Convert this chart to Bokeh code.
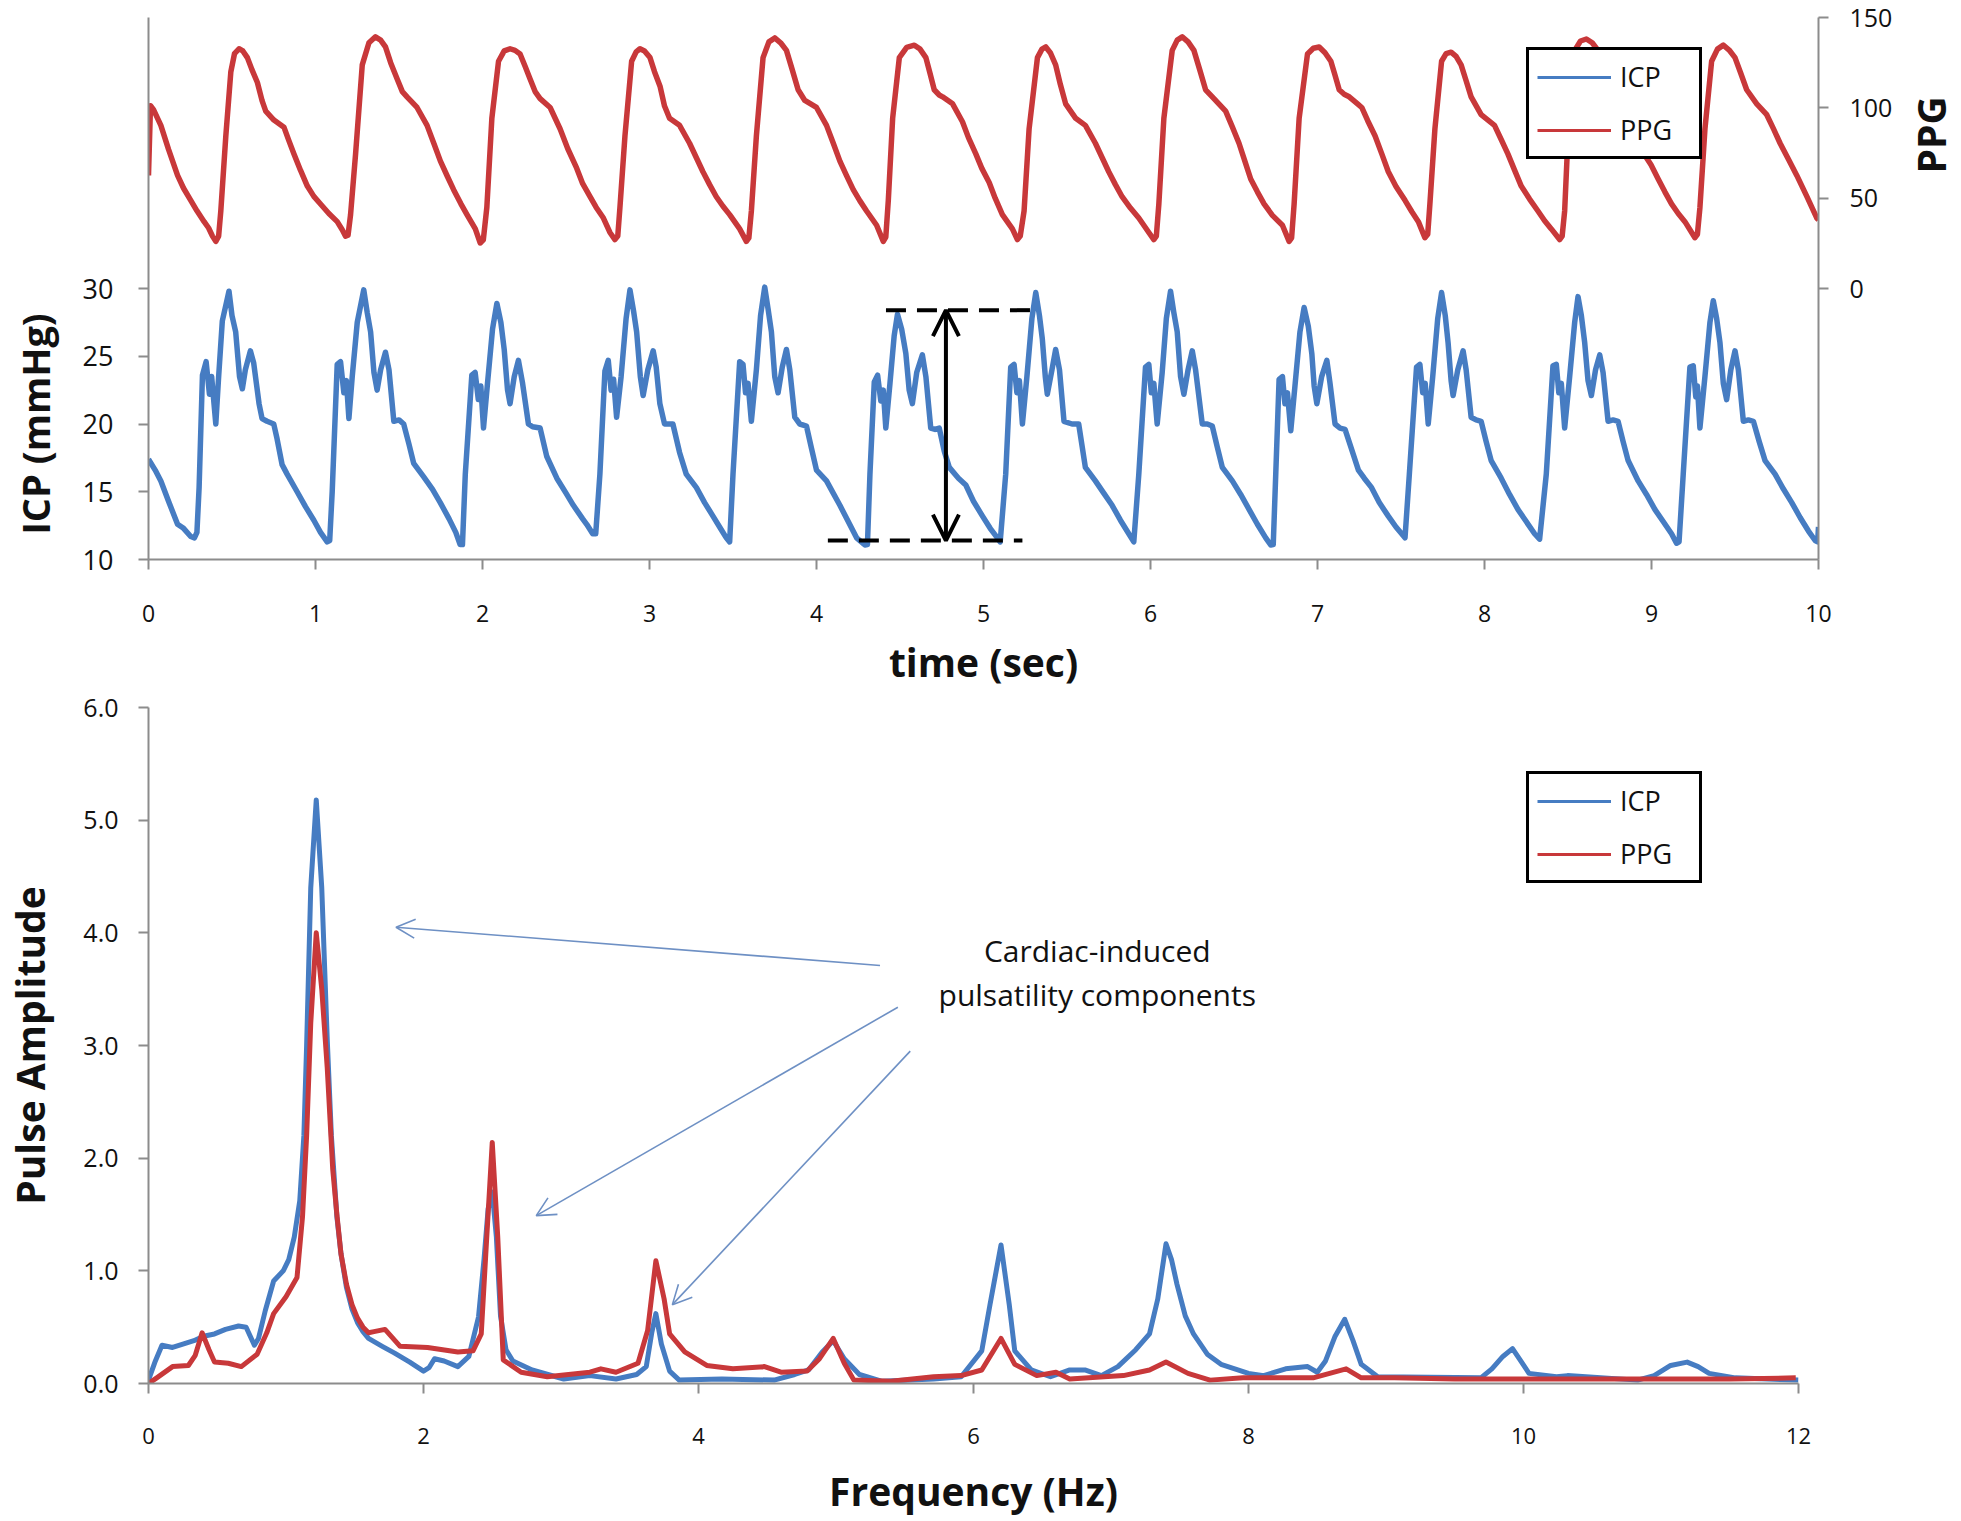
import math
from bokeh.plotting import figure
from bokeh.models import (Range1d, LinearAxis, FixedTicker, Label, Arrow, OpenHead,
                          Legend, LegendItem, PrintfTickFormatter)
from bokeh.core.properties import value
from bokeh.layouts import row
from bokeh.embed import file_html
from bokeh.resources import INLINE

# ---------------- data ----------------
# time series: (time s, ICP mmHg)
icp_trace = [
    (0.00, 17.4), (0.04, 16.6), (0.074, 15.8), (0.12, 14.3), (0.174, 12.6), (0.21, 12.3), (0.253, 11.7),
    (0.275, 11.6), (0.29, 12.0), (0.303, 15.3), (0.323, 23.6), (0.345, 24.6), (0.365, 22.2), (0.378, 23.5),
    (0.403, 20.0), (0.42, 23.5), (0.442, 27.6), (0.482, 29.8), (0.50, 28.0), (0.522, 26.8), (0.545, 23.5),
    (0.562, 22.6), (0.58, 24.0), (0.61, 25.4), (0.63, 24.5), (0.662, 21.5), (0.68, 20.4), (0.71, 20.2),
    (0.75, 20.0), (0.77, 18.9), (0.80, 17.0), (0.83, 16.3), (0.89, 15.0), (0.94, 13.9), (0.99, 12.9),
    (1.03, 12.0), (1.07, 11.3), (1.085, 11.4), (1.10, 15.0), (1.13, 24.4), (1.15, 24.6), (1.17, 22.3),
    (1.185, 23.2), (1.20, 20.4), (1.22, 23.5), (1.25, 27.5), (1.289, 29.9), (1.31, 28.2), (1.33, 26.8),
    (1.35, 23.8), (1.369, 22.5), (1.39, 24.0), (1.419, 25.3), (1.44, 24.0), (1.469, 20.2), (1.50, 20.3),
    (1.528, 20.0), (1.56, 18.5), (1.588, 17.1), (1.648, 16.1), (1.70, 15.2), (1.747, 14.2), (1.80, 13.0),
    (1.84, 12.0), (1.866, 11.1), (1.88, 11.1), (1.897, 16.3), (1.936, 23.6), (1.956, 23.8), (1.975, 21.8),
    (1.99, 22.8), (2.006, 19.7), (2.03, 23.0), (2.06, 27.0), (2.086, 28.9), (2.11, 27.5), (2.13, 25.5),
    (2.15, 22.5), (2.165, 21.5), (2.19, 23.5), (2.215, 24.7), (2.24, 23.0), (2.275, 20.0), (2.30, 19.8),
    (2.345, 19.7), (2.385, 17.6), (2.445, 16.0), (2.50, 14.9), (2.544, 14.0), (2.60, 13.0), (2.624, 12.6),
    (2.66, 11.9), (2.678, 11.9), (2.703, 16.3), (2.733, 23.9), (2.753, 24.7), (2.77, 22.5), (2.785, 23.3),
    (2.803, 20.5), (2.83, 23.5), (2.86, 27.8), (2.883, 29.9), (2.905, 28.3), (2.923, 26.8), (2.945, 23.5),
    (2.962, 22.1), (2.99, 24.0), (3.022, 25.4), (3.04, 24.2), (3.062, 21.5), (3.09, 20.0), (3.14, 20.0),
    (3.18, 17.9), (3.22, 16.3), (3.281, 15.3), (3.33, 14.2), (3.38, 13.2), (3.43, 12.2), (3.46, 11.6),
    (3.48, 11.3), (3.50, 16.3), (3.54, 24.6), (3.56, 24.4), (3.575, 22.3), (3.59, 23.0), (3.61, 20.2),
    (3.64, 24.0), (3.665, 28.0), (3.69, 30.1), (3.71, 28.5), (3.73, 26.8), (3.75, 23.5), (3.77, 22.3),
    (3.795, 24.2), (3.82, 25.5), (3.84, 24.0), (3.87, 20.5), (3.90, 20.0), (3.94, 19.85), (3.97, 18.2),
    (4.00, 16.6), (4.06, 15.8), (4.10, 14.9), (4.14, 14.0), (4.19, 12.8), (4.24, 11.6), (4.29, 11.07),
    (4.305, 11.1), (4.32, 16.3), (4.346, 23.1), (4.366, 23.6), (4.385, 21.7), (4.40, 22.5), (4.415, 19.7),
    (4.44, 23.0), (4.465, 26.5), (4.485, 28.1), (4.51, 27.0), (4.535, 25.2), (4.555, 22.5), (4.574, 21.5),
    (4.60, 23.8), (4.634, 25.1), (4.655, 23.5), (4.684, 19.7), (4.71, 19.6), (4.735, 19.7), (4.765, 18.0),
    (4.795, 16.8), (4.85, 16.0), (4.894, 15.5), (4.94, 14.3), (4.994, 13.2), (5.04, 12.3), (5.083, 11.6),
    (5.10, 11.3), (5.133, 16.3), (5.163, 24.2), (5.183, 24.4), (5.20, 22.3), (5.215, 23.2), (5.233, 20.0),
    (5.26, 23.5), (5.29, 27.8), (5.313, 29.7), (5.335, 28.0), (5.352, 26.3), (5.37, 23.5), (5.382, 22.2),
    (5.41, 24.0), (5.432, 25.5), (5.455, 24.0), (5.482, 20.2), (5.53, 20.0), (5.57, 20.0), (5.61, 16.8),
    (5.67, 15.8), (5.72, 14.9), (5.77, 14.0), (5.82, 12.9), (5.87, 11.9), (5.90, 11.3), (5.93, 16.3),
    (5.97, 24.2), (5.99, 24.4), (6.005, 22.3), (6.02, 23.0), (6.04, 20.0), (6.07, 23.8), (6.095, 27.8),
    (6.12, 29.8), (6.14, 28.2), (6.16, 26.8), (6.18, 23.5), (6.20, 22.2), (6.225, 24.0), (6.25, 25.4),
    (6.27, 24.0), (6.31, 20.0), (6.34, 20.0), (6.37, 19.85), (6.40, 18.3), (6.43, 16.8), (6.49, 15.8),
    (6.54, 14.8), (6.59, 13.7), (6.64, 12.6), (6.69, 11.6), (6.72, 11.07), (6.735, 11.1), (6.75, 16.3),
    (6.77, 23.3), (6.79, 23.5), (6.805, 21.5), (6.82, 22.3), (6.84, 19.5), (6.865, 22.8), (6.895, 26.8),
    (6.92, 28.6), (6.945, 27.2), (6.966, 25.2), (6.98, 22.8), (6.996, 21.5), (7.025, 23.5), (7.056, 24.7),
    (7.075, 23.0), (7.105, 20.0), (7.135, 19.7), (7.165, 19.6), (7.20, 18.3), (7.245, 16.6), (7.28, 16.0),
    (7.324, 15.3), (7.37, 14.2), (7.424, 13.2), (7.47, 12.4), (7.504, 11.9), (7.524, 11.6), (7.55, 16.3),
    (7.593, 24.2), (7.613, 24.4), (7.63, 22.3), (7.645, 23.0), (7.663, 20.0), (7.69, 23.5), (7.72, 27.8),
    (7.743, 29.7), (7.765, 28.0), (7.782, 26.0), (7.80, 23.2), (7.812, 22.1), (7.84, 24.0), (7.872, 25.4),
    (7.89, 24.0), (7.92, 20.5), (7.95, 20.3), (7.98, 20.2), (8.01, 18.7), (8.04, 17.3), (8.10, 16.0),
    (8.15, 14.8), (8.20, 13.7), (8.25, 12.8), (8.30, 11.9), (8.33, 11.5), (8.37, 16.3), (8.41, 24.3),
    (8.43, 24.4), (8.445, 22.3), (8.46, 23.0), (8.48, 19.7), (8.51, 23.5), (8.54, 27.5), (8.56, 29.4),
    (8.58, 28.0), (8.60, 26.0), (8.62, 23.2), (8.64, 22.1), (8.665, 24.0), (8.69, 25.1), (8.71, 23.8),
    (8.74, 20.2), (8.77, 20.3), (8.80, 20.2), (8.83, 18.7), (8.86, 17.3), (8.92, 15.8), (8.97, 14.8),
    (9.02, 13.7), (9.07, 12.8), (9.12, 11.9), (9.15, 11.2), (9.165, 11.3), (9.19, 16.3), (9.23, 24.2),
    (9.25, 24.3), (9.265, 22.0), (9.275, 22.8), (9.29, 19.7), (9.32, 23.5), (9.35, 27.5), (9.37, 29.1),
    (9.39, 27.8), (9.41, 26.0), (9.43, 23.0), (9.45, 21.8), (9.475, 24.0), (9.50, 25.4), (9.52, 24.0),
    (9.55, 20.2), (9.58, 20.3), (9.61, 20.2), (9.645, 18.7), (9.68, 17.3), (9.74, 16.3), (9.79, 15.2),
    (9.84, 14.2), (9.89, 13.1), (9.94, 12.1), (9.98, 11.4), (9.995, 11.3), (10.0, 12.4),
]

# time series: (time s, PPG a.u.)
ppg_trace = [
    (0.0, 62.6), (0.012, 101.2), (0.03, 99.0), (0.074, 90.3), (0.12, 77.0), (0.174, 62.6), (0.21, 55.5),
    (0.253, 48.8), (0.29, 43.0), (0.333, 37.0), (0.36, 33.5), (0.383, 29.0), (0.403, 26.1), (0.42, 29.0),
    (0.433, 42.9), (0.463, 84.4), (0.493, 119.9), (0.515, 130.0), (0.542, 132.7), (0.565, 131.5),
    (0.592, 127.8), (0.62, 121.0), (0.652, 114.0), (0.68, 104.0), (0.702, 98.2), (0.751, 93.2),
    (0.811, 89.3), (0.84, 82.0), (0.871, 74.5), (0.91, 65.5), (0.951, 56.7), (0.99, 51.0), (1.03, 46.8),
    (1.08, 41.5), (1.13, 37.0), (1.16, 32.5), (1.18, 29.0), (1.195, 29.5), (1.21, 40.9), (1.24, 74.5),
    (1.28, 123.8), (1.32, 136.0), (1.359, 139.3), (1.39, 137.5), (1.419, 133.7), (1.45, 125.0),
    (1.489, 115.9), (1.52, 109.0), (1.548, 106.1), (1.608, 100.2), (1.668, 90.3), (1.71, 80.0),
    (1.748, 70.5), (1.79, 62.0), (1.827, 54.7), (1.87, 47.0), (1.907, 40.9), (1.957, 33.0), (1.986, 25.2),
    (2.005, 27.0), (2.026, 44.9), (2.056, 94.2), (2.096, 125.8), (2.13, 131.5), (2.165, 132.7),
    (2.195, 131.8), (2.225, 129.8), (2.255, 123.0), (2.285, 115.9), (2.315, 109.0), (2.345, 105.1),
    (2.405, 100.2), (2.465, 88.3), (2.51, 77.5), (2.564, 66.6), (2.60, 58.0), (2.644, 50.8), (2.68, 45.0),
    (2.724, 39.0), (2.763, 31.0), (2.793, 27.1), (2.81, 29.0), (2.823, 44.9), (2.853, 84.4),
    (2.893, 125.8), (2.92, 131.0), (2.943, 132.7), (2.97, 131.5), (3.003, 127.8), (3.03, 120.0),
    (3.063, 112.0), (3.09, 101.0), (3.12, 94.2), (3.18, 90.3), (3.24, 80.4), (3.28, 72.5), (3.32, 64.6),
    (3.36, 57.5), (3.40, 50.8), (3.44, 45.5), (3.48, 40.9), (3.54, 33.0), (3.58, 26.1), (3.595, 28.0),
    (3.61, 42.9), (3.64, 84.4), (3.68, 127.8), (3.715, 136.5), (3.75, 138.7), (3.785, 136.0),
    (3.82, 131.8), (3.855, 121.0), (3.89, 110.0), (3.93, 104.1), (4.00, 100.2), (4.06, 90.3),
    (4.10, 80.5), (4.14, 70.5), (4.18, 62.5), (4.22, 54.7), (4.26, 48.5), (4.30, 42.9), (4.36, 35.0),
    (4.40, 26.1), (4.415, 28.5), (4.43, 48.8), (4.456, 94.2), (4.496, 127.8), (4.54, 133.5),
    (4.586, 134.7), (4.62, 132.5), (4.655, 127.8), (4.68, 119.0), (4.705, 110.0), (4.735, 107.1),
    (4.755, 106.1), (4.815, 102.2), (4.874, 92.3), (4.91, 83.5), (4.954, 74.5), (4.99, 66.5),
    (5.034, 58.7), (5.07, 50.0), (5.113, 40.9), (5.173, 33.0), (5.203, 27.1), (5.22, 29.0),
    (5.243, 42.9), (5.273, 88.3), (5.323, 127.8), (5.35, 132.5), (5.373, 133.7), (5.40, 130.5),
    (5.432, 123.8), (5.46, 113.0), (5.492, 102.2), (5.552, 94.2), (5.61, 90.3), (5.67, 80.4),
    (5.71, 72.5), (5.75, 64.6), (5.79, 57.5), (5.83, 50.8), (5.88, 44.5), (5.93, 39.0), (5.99, 31.0),
    (6.02, 27.1), (6.035, 29.0), (6.05, 46.8), (6.08, 94.2), (6.13, 131.8), (6.16, 137.5), (6.19, 139.3),
    (6.225, 136.5), (6.26, 131.8), (6.295, 121.0), (6.33, 110.0), (6.38, 105.1), (6.45, 98.2),
    (6.49, 89.5), (6.53, 80.4), (6.565, 70.5), (6.60, 60.6), (6.64, 53.5), (6.68, 46.8), (6.73, 40.5),
    (6.79, 35.0), (6.83, 26.1), (6.845, 28.0), (6.86, 46.8), (6.89, 94.2), (6.94, 129.8), (6.975, 133.0),
    (7.01, 133.7), (7.045, 130.5), (7.08, 125.8), (7.105, 118.0), (7.13, 110.0), (7.16, 107.5),
    (7.19, 106.1), (7.24, 102.2), (7.265, 100.2), (7.30, 93.0), (7.345, 84.4), (7.385, 74.5),
    (7.424, 64.6), (7.47, 56.5), (7.524, 48.8), (7.565, 42.5), (7.604, 37.0), (7.643, 28.1), (7.66, 30.0),
    (7.673, 46.8), (7.703, 88.3), (7.743, 125.8), (7.77, 130.0), (7.80, 130.8), (7.83, 128.5),
    (7.86, 123.8), (7.89, 115.0), (7.92, 106.1), (7.98, 96.2), (8.06, 90.3), (8.10, 82.5), (8.14, 74.5),
    (8.18, 65.5), (8.22, 56.7), (8.27, 49.5), (8.32, 42.9), (8.36, 37.5), (8.40, 33.0), (8.45, 27.1),
    (8.465, 29.0), (8.48, 42.9), (8.50, 84.4), (8.54, 131.8), (8.575, 137.0), (8.61, 138.1),
    (8.645, 136.0), (8.68, 131.8), (8.72, 118.0), (8.76, 106.0), (8.82, 99.0), (8.87, 90.0),
    (8.93, 78.0), (8.997, 68.5), (9.04, 60.6), (9.08, 53.5), (9.12, 46.8), (9.16, 41.5), (9.20, 37.0),
    (9.26, 28.1), (9.275, 30.0), (9.29, 44.9), (9.32, 88.3), (9.36, 125.8), (9.395, 132.5),
    (9.43, 134.7), (9.465, 132.0), (9.50, 127.8), (9.535, 119.0), (9.57, 110.0), (9.63, 102.2),
    (9.69, 96.2), (9.73, 88.5), (9.77, 80.4), (9.82, 71.5), (9.87, 62.6), (9.93, 51.0), (9.99, 39.0),
    (10.0, 38.0),
]

# spectra
icp_freq = [0.0, 0.05, 0.098, 0.175, 0.25, 0.33, 0.40, 0.48, 0.56, 0.655, 0.71, 0.77, 0.80, 0.85, 0.91,
            0.98, 1.02, 1.06, 1.10, 1.13, 1.15, 1.18, 1.22, 1.26, 1.30, 1.33, 1.37, 1.40, 1.44, 1.48,
            1.52, 1.56, 1.60, 1.70, 1.79, 1.90, 2.0, 2.04, 2.08, 2.15, 2.25, 2.33, 2.40, 2.44, 2.47,
            2.50, 2.53, 2.56, 2.60, 2.65, 2.79, 3.02, 3.21, 3.40, 3.55, 3.62, 3.66, 3.69, 3.73, 3.79,
            3.86, 4.17, 4.55, 4.70, 4.80, 4.90, 4.98, 5.06, 5.17, 5.33, 5.71, 5.91, 6.06, 6.12, 6.20,
            6.26, 6.30, 6.42, 6.56, 6.70, 6.81, 6.93, 7.05, 7.18, 7.28, 7.34, 7.40, 7.44, 7.48, 7.54,
            7.60, 7.70, 7.80, 8.0, 8.11, 8.27, 8.43, 8.50, 8.56, 8.63, 8.70, 8.76, 8.82, 8.94, 9.69,
            9.77, 9.85, 9.92, 9.98, 10.04, 10.24, 10.32, 10.83, 10.95, 11.07, 11.19, 11.27, 11.35,
            11.54, 12.0]
icp_amp = [0.03, 0.2, 0.34, 0.32, 0.35, 0.38, 0.42, 0.44, 0.48, 0.51, 0.50, 0.34, 0.40, 0.65, 0.91,
           1.0, 1.1, 1.30, 1.62, 2.2, 3.0, 4.4, 5.18, 4.4, 3.05, 2.2, 1.48, 1.15, 0.85, 0.66,
           0.54, 0.46, 0.40, 0.33, 0.27, 0.19, 0.11, 0.14, 0.22, 0.20, 0.15, 0.24, 0.59, 1.1, 1.55,
           1.7, 1.3, 0.6, 0.3, 0.2, 0.12, 0.04, 0.07, 0.04, 0.08, 0.15, 0.45, 0.62, 0.35, 0.11,
           0.03, 0.04, 0.03, 0.08, 0.12, 0.28, 0.38, 0.22, 0.08, 0.02, 0.04, 0.06, 0.29, 0.7, 1.23,
           0.7, 0.29, 0.12, 0.06, 0.12, 0.12, 0.07, 0.15, 0.30, 0.44, 0.75, 1.24, 1.1, 0.88, 0.6,
           0.44, 0.26, 0.17, 0.09, 0.07, 0.13, 0.15, 0.10, 0.2, 0.42, 0.57, 0.38, 0.17, 0.06, 0.05,
           0.13, 0.24, 0.31, 0.2, 0.09, 0.06, 0.07, 0.03, 0.07, 0.16, 0.19, 0.15, 0.09,
           0.05, 0.03]
ppg_freq = [0.0, 0.06, 0.175, 0.29, 0.34, 0.39, 0.44, 0.48, 0.58, 0.675, 0.79, 0.86, 0.91, 1.0, 1.08,
            1.12, 1.15, 1.18, 1.22, 1.26, 1.30, 1.34, 1.37, 1.40, 1.44, 1.48, 1.52, 1.56, 1.60, 1.64,
            1.72, 1.83, 2.03, 2.25, 2.36, 2.42, 2.46, 2.50, 2.54, 2.58, 2.71, 2.90, 3.21, 3.29, 3.40,
            3.56, 3.63, 3.69, 3.75, 3.79, 3.90, 4.06, 4.25, 4.48, 4.60, 4.79, 4.88, 4.98, 5.06, 5.13,
            5.40, 5.71, 5.91, 6.06, 6.20, 6.30, 6.46, 6.60, 6.70, 7.09, 7.28, 7.40, 7.56, 7.72, 7.96,
            8.47, 8.71, 8.82, 9.06, 9.5, 10.0, 10.5, 11.0, 11.5, 11.98]
ppg_amp = [0.0, 0.05, 0.15, 0.16, 0.25, 0.45, 0.3, 0.19, 0.18, 0.15, 0.26, 0.45, 0.62, 0.77, 0.94,
           1.48, 2.2, 3.2, 4.0, 3.5, 2.8, 1.9, 1.5, 1.15, 0.88, 0.70, 0.58, 0.50, 0.45, 0.46,
           0.48, 0.33, 0.32, 0.28, 0.29, 0.44, 1.3, 2.14, 1.3, 0.21, 0.10, 0.06, 0.10, 0.13, 0.10,
           0.18, 0.47, 1.09, 0.75, 0.44, 0.28, 0.16, 0.13, 0.15, 0.10, 0.11, 0.22, 0.40, 0.18, 0.03,
           0.02, 0.06, 0.07, 0.12, 0.40, 0.17, 0.07, 0.10, 0.04, 0.07, 0.12, 0.19, 0.09, 0.03, 0.05,
           0.05, 0.13, 0.05, 0.05, 0.04, 0.04, 0.04, 0.04, 0.04, 0.05]

# ticks and labels
time_ticks = [0, 1, 2, 3, 4, 5, 6, 7, 8, 9, 10]
icp_ticks = [10, 15, 20, 25, 30]
ppg_ticks = [0, 50, 100, 150]
freq_ticks = [0, 2, 4, 6, 8, 10, 12]
amp_ticks = [0, 1, 2, 3, 4, 5, 6]
series_names = ["ICP", "PPG"]
icp_title, icp_title_at = "ICP (mmHg)", 20      # centred on the visible ICP scale
ppg_title, ppg_title_at = "PPG", 85             # centred on the visible PPG scale

# annotation geometry (pulse-amplitude marker and call-out arrows)
pulse_x = 4.775
pulse_top, pulse_bottom = 28.4, 11.4
dash_top_span = (4.416, 5.313)
dash_bottom_span = (4.068, 5.233)
callout_lines = ["Cardiac-induced", "pulsatility components"]
callout_pos = (6.90, 3.84, 3.45)
callout_arrows = [((5.32, 3.71), (1.80, 4.05)),
                  ((5.45, 3.34), (2.82, 1.49)),
                  ((5.54, 2.95), (3.81, 0.70))]

# ---------------- style / layout ----------------
BLUE = "#467CC2"
RED = "#C8383A"
AXIS_GRAY = "#8C8C8C"
TXT = "#111111"
FONT = "Open Sans"

TOP_H = 690
TOP_BORDER_T, TOP_BORDER_B = 17, 130
LEFT_W, RIGHT_W = 70, 66
MAIN_W = 1961 - LEFT_W - RIGHT_W
PPG_TITLE_X = 1930   # page x of the rotated PPG title centre


def style_axis(ax, size):
    ax.axis_line_color = AXIS_GRAY
    ax.axis_line_width = 2
    ax.major_tick_line_color = AXIS_GRAY
    ax.major_tick_line_width = 2
    ax.major_tick_out = 10
    ax.major_tick_in = 0
    ax.minor_tick_line_color = None
    ax.major_label_text_font = FONT
    ax.major_label_text_font_size = size
    ax.major_label_text_color = TXT
    ax.axis_label_text_font = FONT
    ax.axis_label_text_font_style = "bold"
    ax.axis_label_text_font_size = "39px"
    ax.axis_label_text_color = TXT


def base_fig(w, h, xr, yr, **kw):
    p = figure(width=w, height=h, x_range=xr, y_range=yr, output_backend="svg",
               toolbar_location=None, **kw)
    p.grid.visible = False
    p.outline_line_color = None
    p.background_fill_color = "white"
    p.border_fill_color = "white"
    return p


def title_fig(width, yr, x, y, text, size):
    # narrow, axis-less strip that holds a rotated axis title
    f = base_fig(width, TOP_H, Range1d(0, width), yr, x_axis_location=None, y_axis_location=None,
                 min_border_left=0, min_border_right=0,
                 min_border_top=TOP_BORDER_T, min_border_bottom=TOP_BORDER_B)
    f.text(x=[x], y=[y], text=[text], angle=math.pi / 2, text_align="center",
           text_baseline="middle", text_font=value(FONT), text_font_style="bold",
           text_font_size=size, text_color=TXT)
    return f


def make_legend(p, loc):
    nan = float("nan")
    r1 = p.line(x=[nan], y=[nan], line_color=BLUE, line_width=3)
    r2 = p.line(x=[nan], y=[nan], line_color=RED, line_width=3)
    leg = Legend(items=[LegendItem(label=series_names[0], renderers=[r1]),
                        LegendItem(label=series_names[1], renderers=[r2])],
                 location=loc)
    leg.label_text_font = FONT
    leg.label_text_font_size = "27px"
    leg.label_text_color = TXT
    leg.border_line_color = "black"
    leg.border_line_width = 3
    leg.border_line_alpha = 1
    leg.background_fill_color = "white"
    leg.background_fill_alpha = 1
    leg.padding = 8
    leg.spacing = 16
    leg.glyph_width = 74
    leg.glyph_height = 20
    leg.label_standoff = 9
    leg.label_width = 71
    leg.margin = 0
    p.add_layout(leg)


# ---------------- top: time series ----------------
p1 = base_fig(MAIN_W, TOP_H, Range1d(0, 10), Range1d(10, 50),
              min_border_left=148 - LEFT_W, min_border_right=LEFT_W + MAIN_W - 1821,
              min_border_top=TOP_BORDER_T, min_border_bottom=TOP_BORDER_B)
p1.extra_y_ranges = {"ppg": Range1d(-150, 150)}
p1.add_layout(LinearAxis(y_range_name="ppg"), "right")

ax_l = p1.yaxis[0]
ax_r = p1.yaxis[1]
ax_b = p1.xaxis[0]
style_axis(ax_l, "27px")
style_axis(ax_r, "25px")
style_axis(ax_b, "23px")
ax_l.ticker = FixedTicker(ticks=icp_ticks)
ax_l.major_label_standoff = 25
ax_r.ticker = FixedTicker(ticks=ppg_ticks)
ax_r.major_label_standoff = 21
ax_b.ticker = FixedTicker(ticks=time_ticks)
ax_b.major_label_standoff = 35
ax_b.axis_label = "time (sec)"
ax_b.axis_label_standoff = 10

p1.line([t for t, _ in icp_trace], [v for _, v in icp_trace], line_color=BLUE, line_width=5.5,
        line_join="round")
p1.line([t for t, _ in ppg_trace], [v for _, v in ppg_trace], line_color=RED, line_width=5.5,
        line_join="round", y_range_name="ppg")

# pulse amplitude marker
p1.add_layout(Arrow(start=None, end=None, x_start=dash_top_span[0], x_end=dash_top_span[1],
                    y_start=pulse_top, y_end=pulse_top, line_color="black", line_width=4,
                    line_dash="20 11"))
p1.add_layout(Arrow(start=None, end=None, x_start=dash_bottom_span[0], x_end=dash_bottom_span[1],
                    y_start=pulse_bottom, y_end=pulse_bottom, line_color="black", line_width=4,
                    line_dash="20 11"))
p1.add_layout(Arrow(start=OpenHead(size=26, line_color="black", line_width=4),
                    end=OpenHead(size=26, line_color="black", line_width=4),
                    x_start=pulse_x, x_end=pulse_x, y_start=pulse_bottom, y_end=pulse_top,
                    line_color="black", line_width=4))
make_legend(p1, (1378, 400))

left_strip = title_fig(LEFT_W, Range1d(10, 50), 34.6, icp_title_at, icp_title, "38px")
right_strip = title_fig(RIGHT_W, Range1d(-150, 150), PPG_TITLE_X - LEFT_W - MAIN_W, ppg_title_at,
                        ppg_title, "39px")
top_row = row(left_strip, p1, right_strip)

# ---------------- bottom: spectra ----------------
p2 = base_fig(1961, 829, Range1d(0, 12), Range1d(0, 6),
              min_border_left=148, min_border_right=163, min_border_top=17, min_border_bottom=136)
bx = p2.xaxis[0]
by = p2.yaxis[0]
style_axis(bx, "22px")
style_axis(by, "25px")
bx.ticker = FixedTicker(ticks=freq_ticks)
bx.major_label_standoff = 34
bx.axis_label = "Frequency (Hz)"
bx.axis_label_standoff = 17
by.ticker = FixedTicker(ticks=amp_ticks)
by.formatter = PrintfTickFormatter(format="%.1f")
by.major_label_standoff = 20
by.axis_label = "Pulse Amplitude"
by.axis_label_standoff = 24

p2.line(icp_freq, icp_amp, line_color=BLUE, line_width=5, line_join="round")
p2.line(ppg_freq, ppg_amp, line_color=RED, line_width=5, line_join="round")

ARROW_BLUE = "#6E90C4"
for (x0, y0), (x1, y1) in callout_arrows:
    p2.add_layout(Arrow(end=OpenHead(size=19, line_color=ARROW_BLUE, line_width=1.6),
                        x_start=x0, y_start=y0, x_end=x1, y_end=y1,
                        line_color=ARROW_BLUE, line_width=1.6))
p2.add_layout(Label(x=callout_pos[0], y=callout_pos[1], text=callout_lines[0], text_align="center",
                    text_baseline="middle", text_font=FONT, text_font_size="30px", text_color=TXT))
p2.add_layout(Label(x=callout_pos[0], y=callout_pos[2], text=callout_lines[1], text_align="center",
                    text_baseline="middle", text_font=FONT, text_font_size="30px", text_color=TXT))
make_legend(p2, (1378, 500))

open("out.html", "w").write(file_html([top_row, p2], INLINE))
